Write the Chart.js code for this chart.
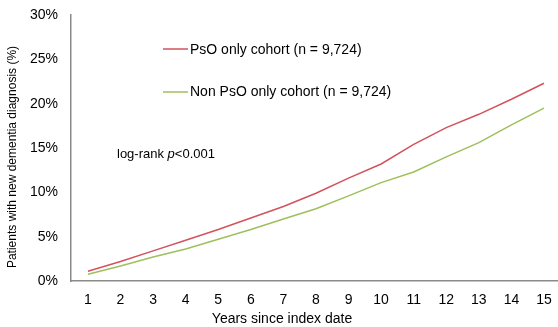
<!DOCTYPE html>
<html>
<head>
<meta charset="utf-8">
<script src="https://cdn.jsdelivr.net/npm/chart.js@4"></script>
<style>
  html, body { margin: 0; padding: 0; background: #fff; }
  #wrap { width: 558px; height: 327px; }
</style>
</head>
<body>
<div id="wrap"><canvas id="myChart"></canvas></div>
<script>
// data
const years = [1, 2, 3, 4, 5, 6, 7, 8, 9, 10, 11, 12, 13, 14, 15];
const psoValues = [1.1, 2.2, 3.4, 4.6, 5.8, 7.1, 8.4, 9.9, 11.6, 13.2, 15.4, 17.3, 18.8, 20.5, 22.3];
const nonPsoValues = [0.75, 1.7, 2.7, 3.6, 4.7, 5.8, 7.0, 8.15, 9.6, 11.1, 12.3, 14.0, 15.6, 17.6, 19.5];
const yTicks = [0, 5, 10, 15, 20, 25, 30];
const psoLabel = 'PsO only cohort (n = 9,724)';
const nonPsoLabel = 'Non PsO only cohort (n = 9,724)';

const red = '#d2525d';
const green = '#9dc05c';
const font = '"Liberation Sans", Arial, sans-serif';

// legend, annotation and axis titles drawn by hand
const extras = {
    id: 'extras',
    afterDraw(chart) {
        const c = chart.ctx;
        c.save();
        c.lineWidth = 1.5;
        c.strokeStyle = red;
        c.beginPath(); c.moveTo(163, 49); c.lineTo(188, 49); c.stroke();
        c.strokeStyle = green;
        c.beginPath(); c.moveTo(163, 92); c.lineTo(188, 92); c.stroke();

        c.fillStyle = '#000';
        c.textBaseline = 'middle';
        c.textAlign = 'left';
        c.font = '14px ' + font;
        c.fillText(psoLabel, 190, 50);
        c.fillText(nonPsoLabel, 190, 92);

        c.font = '13px ' + font;
        let x = 117;
        c.fillText('log-rank ', x, 154);
        x += c.measureText('log-rank ').width;
        c.font = 'italic 13px ' + font;
        c.fillText('p', x, 154);
        x += c.measureText('p').width;
        c.font = '13px ' + font;
        c.fillText('<0.001', x, 154);

        c.textAlign = 'center';
        c.font = '14px ' + font;
        c.fillText('Years since index date', 282, 319);

        c.translate(13, 157);
        c.rotate(-Math.PI / 2);
        c.font = '12px ' + font;
        c.fillText('Patients with new dementia diagnosis (%)', 0, 0);
        c.restore();
    }
};

const ctx = document.getElementById('myChart').getContext('2d');

const myChart = new Chart(ctx, {
    type: 'line',
    data: {
        datasets: [{
            label: psoLabel,
            data: years.map((y, i) => ({ x: y, y: psoValues[i] })),
            borderColor: red,
            borderWidth: 1.5,
            pointRadius: 0,
            tension: 0
        }, {
            label: nonPsoLabel,
            data: years.map((y, i) => ({ x: y, y: nonPsoValues[i] })),
            borderColor: green,
            borderWidth: 1.5,
            pointRadius: 0,
            tension: 0
        }]
    },
    options: {
        responsive: true,
        maintainAspectRatio: false,
        animation: false,
        layout: { padding: { top: 15, right: 0, bottom: 0, left: 0 } },
        plugins: {
            legend: { display: false },
            tooltip: { enabled: false }
        },
        scales: {
            x: {
                type: 'linear',
                min: 0.48,
                max: 15.43,
                afterBuildTicks: scale => { scale.ticks = years.map(v => ({ value: v })); },
                grid: { display: false, drawTicks: true, tickLength: 11, tickColor: 'rgba(0,0,0,0)' },
                border: { color: '#8a8a8a', width: 1.5 },
                ticks: {
                    color: '#000',
                    font: { family: font, size: 14 },
                    padding: 0,
                    autoSkip: false,
                    maxRotation: 0
                },
                afterFit: scale => { scale.height = 46; }
            },
            y: {
                min: 0,
                max: 30,
                afterBuildTicks: scale => { scale.ticks = yTicks.map(v => ({ value: v })); },
                grid: { display: false, drawTicks: true, tickLength: 13, tickColor: 'rgba(0,0,0,0)' },
                border: { color: '#8a8a8a', width: 1.5 },
                ticks: {
                    color: '#000',
                    font: { family: font, size: 14 },
                    padding: 0,
                    callback: v => v + '%'
                },
                afterFit: scale => { scale.width = 71; }
            }
        }
    },
    plugins: [extras]
});
</script>
</body>
</html>
